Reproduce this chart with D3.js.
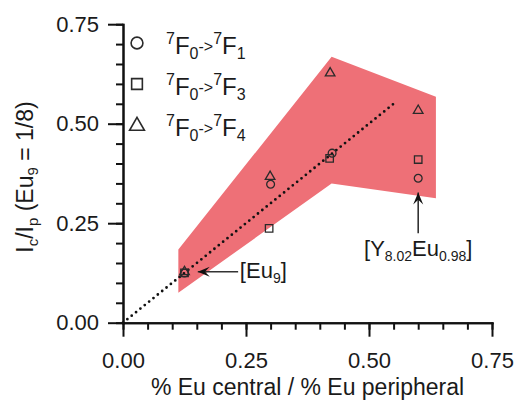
<!DOCTYPE html>
<html>
<head>
<meta charset="utf-8">
<script src="https://cdn.jsdelivr.net/npm/d3@7"></script>
<style>
  body { margin: 0; background: #fff; }
  text { font-family: "Liberation Sans", Arial, sans-serif; fill: #1a1a1a; }
</style>
</head>
<body>
<script>
var width = 518;
var height = 401;

// measured points, one array per transition
var xF1 = [0.125, 0.300, 0.425, 0.600];
var yF1 = [0.125, 0.348, 0.426, 0.363];
var xF3 = [0.125, 0.297, 0.420, 0.600];
var yF3 = [0.125, 0.237, 0.413, 0.410];
var xF4 = [0.125, 0.299, 0.421, 0.600];
var yF4 = [0.128, 0.367, 0.627, 0.533];

// shaded band outline
var bandX = [0.1125, 0.424, 0.636, 0.636, 0.424, 0.1125];
var bandY = [0.184, 0.668, 0.568, 0.3125, 0.350, 0.075];

// dotted guide y = x
var guideX = [0, 0.555];

var majorTicks = [0, 0.25, 0.5, 0.75];
var minorTicks = d3.range(0, 0.76, 0.05);

var svg = d3.select('body')
            .append('svg')
            .attr('width', width)
            .attr('height', height);

var xScale = d3.scaleLinear().domain([0, 0.75]).range([123, 492]);
var yScale = d3.scaleLinear().domain([0, 0.75]).range([322.7, 24.2]);

// band
svg.append('path')
   .datum(d3.zip(bandX, bandY))
   .attr('d', d3.line().x(function (d) { return xScale(d[0]); })
                       .y(function (d) { return yScale(d[1]); }))
   .attr('fill', '#ee7077')
   .attr('stroke', 'none');

// dotted line
svg.append('line')
   .attr('x1', xScale(guideX[0])).attr('y1', yScale(guideX[0]))
   .attr('x2', xScale(guideX[1])).attr('y2', yScale(guideX[1]))
   .attr('stroke', '#111')
   .attr('stroke-width', 2.8)
   .attr('stroke-linecap', 'round')
   .attr('stroke-dasharray', '0 5.6');

// axes
function styleAxis(g) {
  g.selectAll('path, line').attr('stroke', '#111').attr('stroke-width', 2);
  g.select('.domain').attr('stroke-linecap', 'square');
}

svg.append('g')
   .attr('transform', 'translate(0,' + yScale(0) + ')')
   .call(d3.axisBottom(xScale).tickValues(minorTicks).tickSize(7).tickSizeOuter(0).tickFormat(''))
   .call(styleAxis);
var xAx = svg.append('g')
   .attr('transform', 'translate(0,' + yScale(0) + ')')
   .call(d3.axisBottom(xScale).tickValues(majorTicks).tickSize(14).tickSizeOuter(0)
           .tickPadding(16).tickFormat(d3.format('.2f')))
   .call(styleAxis);
xAx.selectAll('text').attr('font-size', 22).attr('font-family', null).attr('fill', '#1a1a1a');

svg.append('g')
   .attr('transform', 'translate(' + xScale(0) + ',0)')
   .call(d3.axisLeft(yScale).tickValues(minorTicks).tickSize(7).tickSizeOuter(0).tickFormat(''))
   .call(styleAxis);
var yAx = svg.append('g')
   .attr('transform', 'translate(' + xScale(0) + ',0)')
   .call(d3.axisLeft(yScale).tickValues(majorTicks).tickSize(15).tickSizeOuter(0)
           .tickPadding(9).tickFormat(d3.format('.2f')))
   .call(styleAxis);
yAx.selectAll('text').attr('font-size', 22).attr('font-family', null).attr('fill', '#1a1a1a');
svg.selectAll('.domain').attr('fill', 'none');

// axis titles
svg.append('text')
   .attr('x', (xScale(0) + xScale(0.75)) / 2)
   .attr('y', 395)
   .attr('text-anchor', 'middle')
   .attr('font-size', 23)
   .text('% Eu central / % Eu peripheral');

var yt = svg.append('text')
   .attr('transform', 'translate(33,177) rotate(-90)')
   .attr('text-anchor', 'middle')
   .attr('font-size', 23);
yt.append('tspan').text('I');
yt.append('tspan').attr('font-size', 15).attr('dy', 5).text('c');
yt.append('tspan').attr('dy', -5).text('/I');
yt.append('tspan').attr('font-size', 15).attr('dy', 5).text('p');
yt.append('tspan').attr('dy', -5).text(' (Eu');
yt.append('tspan').attr('font-size', 15).attr('dy', 5).text('9');
yt.append('tspan').attr('dy', -5).text(' = 1/8)');

// markers
var circleSym = d3.symbol().type(d3.symbolCircle);
var squareSym = d3.symbol().type(d3.symbolSquare);
var triSym = d3.symbol().type(d3.symbolTriangle);

function drawMarkers(xs, ys, sym, size) {
  svg.append('g').selectAll('path')
     .data(d3.zip(xs, ys))
     .enter()
     .append('path')
     .attr('transform', function (d) {
       return 'translate(' + xScale(d[0]) + ',' + yScale(d[1]) + ')';
     })
     .attr('d', sym.size(size)())
     .attr('fill', 'none')
     .attr('stroke', '#2a2a2a')
     .attr('stroke-width', 1.3);
}
drawMarkers(xF1, yF1, circleSym, 48);
drawMarkers(xF3, yF3, squareSym, 56);
drawMarkers(xF4, yF4, triSym, 40);

// legend
var legendRows = [
  { sym: circleSym, size: 110, sub: '1' },
  { sym: squareSym, size: 115, sub: '3' },
  { sym: triSym, size: 95, sub: '4' }
];
legendRows.forEach(function (r, i) {
  var cy = 43 + i * 41;
  svg.append('path')
     .attr('transform', 'translate(137,' + (i == 2 ? cy + 1 : cy) + ')')
     .attr('d', r.sym.size(r.size)())
     .attr('fill', 'none')
     .attr('stroke', '#2a2a2a')
     .attr('stroke-width', 1.6);
  var t = svg.append('text')
     .attr('x', 166)
     .attr('y', 54 + i * 41)
     .attr('font-size', 24);
  t.append('tspan').attr('font-size', 16).attr('dy', -10).text('7');
  t.append('tspan').attr('dy', 10).text('F');
  t.append('tspan').attr('font-size', 16).attr('dy', 5).text('0');
  t.append('tspan').attr('font-size', 16).attr('dy', -7).text('->');
  t.append('tspan').attr('font-size', 16).attr('dy', -8).text('7');
  t.append('tspan').attr('dy', 10).text('F');
  t.append('tspan').attr('font-size', 16).attr('dy', 5).text(r.sub);
});

// annotations
function arrow(x1, y1, x2, y2) {
  svg.append('line')
     .attr('x1', x1).attr('y1', y1).attr('x2', x2).attr('y2', y2)
     .attr('stroke', '#333').attr('stroke-width', 1.6);
  var a = Math.atan2(y2 - y1, x2 - x1);
  var L = 12, W = 5;
  var bx = x2 - L * Math.cos(a), by = y2 - L * Math.sin(a);
  var nx = -Math.sin(a), ny = Math.cos(a);
  var mx = x2 - 0.6 * L * Math.cos(a), my = y2 - 0.6 * L * Math.sin(a);
  svg.append('path')
     .attr('d', 'M' + x2 + ',' + y2 + 'L' + (bx + nx * W) + ',' + (by + ny * W) +
                'L' + mx + ',' + my + 'L' + (bx - nx * W) + ',' + (by - ny * W) + 'Z')
     .attr('fill', '#111');
}

arrow(xScale(0.234), yScale(0.128), xScale(0.152), yScale(0.128));
var e9 = svg.append('text')
   .attr('x', xScale(0.2375))
   .attr('y', 278)
   .attr('font-size', 22);
e9.append('tspan').text('[Eu');
e9.append('tspan').attr('font-size', 14).attr('dy', 5).text('9');
e9.append('tspan').attr('dy', -5).text(']');

arrow(xScale(0.6), yScale(0.225), xScale(0.6), yScale(0.327));
var yEu = svg.append('text')
   .attr('x', xScale(0.6))
   .attr('y', 256)
   .attr('text-anchor', 'middle')
   .attr('font-size', 22);
yEu.append('tspan').text('[Y');
yEu.append('tspan').attr('font-size', 14).attr('dy', 5).text('8.02');
yEu.append('tspan').attr('dy', -5).text('Eu');
yEu.append('tspan').attr('font-size', 14).attr('dy', 5).text('0.98');
yEu.append('tspan').attr('dy', -5).text(']');
</script>
</body>
</html>
